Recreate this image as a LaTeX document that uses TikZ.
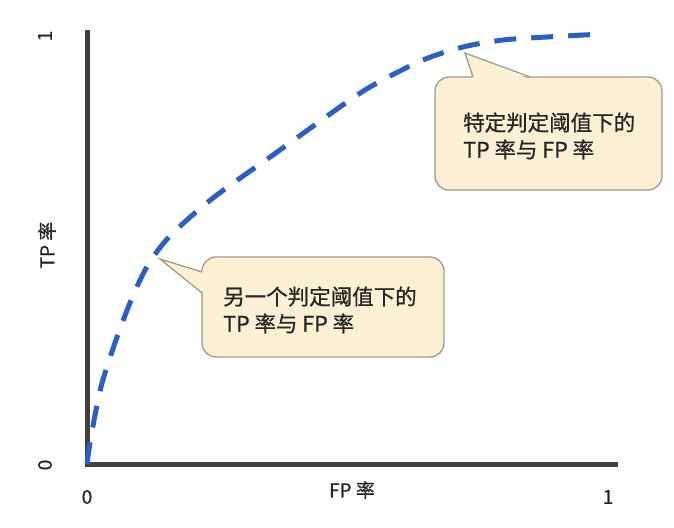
\documentclass[tikz,border=0pt]{standalone}
\usepackage{fontspec}
\setmainfont{Noto Sans CJK SC}[FakeBold=0.8]
\newfontfamily\boldishcjk{Noto Sans CJK SC}[FakeBold=0.8]
\definecolor{axisgray}{HTML}{404040}
\definecolor{rocblue}{HTML}{2B5FC4}
\definecolor{calloutfill}{HTML}{FBEFD4}
\definecolor{calloutborder}{HTML}{A39B87}
\definecolor{textdark}{HTML}{262626}
\begin{document}
\begin{tikzpicture}[x=1bp,y=-1bp,
  axisline/.style={draw=axisgray, line width=5bp, line join=miter},
  roc/.style={draw=rocblue, line width=5bp, dash pattern=on 22bp off 15bp},
  calloutbox/.style={draw=calloutborder, fill=calloutfill, line width=1.3bp, rounded corners=14bp, inner sep=0pt, outer sep=0pt, anchor=north west},
  pointerfill/.style={fill=calloutfill},
  pointerline/.style={draw=calloutborder, line width=1.3bp, line join=miter},
  callouttext/.style={anchor=west, align=left, font=\boldishcjk\fontsize{21.5bp}{27bp}\selectfont, text=textdark, inner sep=0pt},
  axislabel/.style={font=\fontsize{19bp}{22bp}\selectfont, text=textdark, inner sep=0pt}]
\useasboundingbox[fill=white] (0,0) rectangle (674,528);

% axes
\coordinate (O) at (87,464);
\coordinate (ytop) at (87,30);
\coordinate (xend) at (618,464);
\draw[axisline] (ytop) -- (O) -- (xend);

% ROC curve
\draw[roc] plot[smooth, tension=0.5] coordinates {(87,464) (91,437) (101,387) (116,340) (132,298) (148,265) (170,236) (213,198) (280,150) (347,102) (377,83) (423,60) (463,47) (503,40) (547,37) (603,34)};

% callout 1
\node[calloutbox, minimum width=227bp, minimum height=113bp] (box1) at (435,77) {};
\coordinate (tip1) at (465,53);
\fill[pointerfill] ([xshift=38bp,yshift=-2.5bp]box1.north west) -- (tip1) -- ([xshift=95bp,yshift=-2.5bp]box1.north west) -- cycle;
\draw[pointerline] ([xshift=38bp]box1.north west) -- (tip1) -- ([xshift=95bp]box1.north west);
\node[callouttext] (t1) at (463,136) {特定判定阈值下的\\TP 率与 FP 率};

% callout 2
\node[calloutbox, minimum width=242bp, minimum height=100bp] (box2) at (202,257) {};
\coordinate (tip2) at (160,259);
\fill[pointerfill] ([xshift=2.5bp,yshift=-15bp]box2.north west) -- (tip2) -- ([xshift=2.5bp,yshift=-36bp]box2.north west) -- cycle;
\draw[pointerline] ([yshift=-15bp]box2.north west) -- (tip2) -- ([yshift=-36bp]box2.north west);
\node[callouttext] (t2) at (223,310) {另一个判定阈值下的\\TP 率与 FP 率};

% axis labels
\node[axislabel] (x0) at (87,497) {0};
\node[axislabel] (x1) at (608,497) {1};
\node[axislabel] (xl) at (352,490) {FP 率};
\node[axislabel, rotate=90] (y1) at (45,36) {1};
\node[axislabel, rotate=90] (y0) at (45,465) {0};
\node[axislabel, rotate=90] (yl) at (47,245) {TP 率};
\end{tikzpicture}
\end{document}
